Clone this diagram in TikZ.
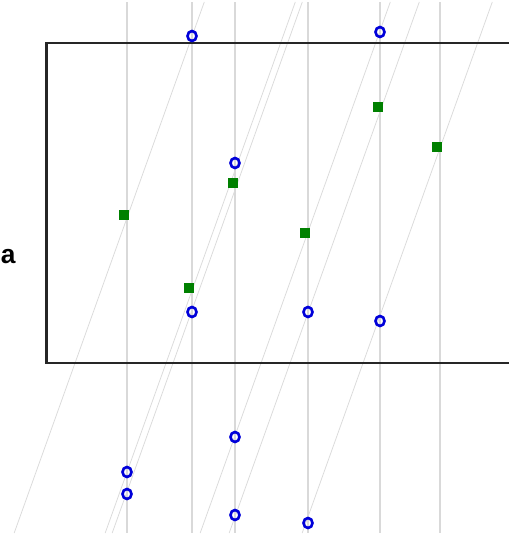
\documentclass[tikz,border=0pt]{standalone}
\usepackage{fontspec}
\setsansfont{Liberation Sans}
\usetikzlibrary{shapes.geometric}

\begin{document}
\begin{tikzpicture}[x=0.02cm, y=-0.02cm,
	grid/.style={gray!30, line width=0.6pt},
	trace/.style={gray!28, line width=0.45pt},
	frame/.style={black!85, line width=1.3pt},
	hit/.style={ellipse, draw=blue!85!black, line width=1.5pt, minimum width=0.18cm, minimum height=0.2cm, inner sep=0pt},
	seed/.style={rectangle, fill=green!50!black, minimum size=0.2cm, inner sep=0pt}]
	\useasboundingbox (0,0) rectangle (509,539);
	% vertical grid
	\foreach \gx in {127,192,235,308,380,440} {
		\draw[grid] (\gx,2) -- (\gx,533);
	}
	% slanted traces, x at the top minus slope*y
	\foreach \xo [count=\k] in {205,296,303,391,420,493} {
		\coordinate (t\k) at (\xo-0.716,2);
		\coordinate (b\k) at (\xo-190.8,533);
		\draw[trace] (t\k) -- (b\k);
	}
	\draw[frame] (46.5,43) rectangle (540,363);
	\node[font=\sffamily\bfseries\fontsize{15}{17}\selectfont, anchor=base west, inner sep=0pt] (lbl) at (0.5,263) {a};
	% markers
	\foreach \nm/\px/\py in {s1/378/107, s2/437/147, s3/233/183, s4/124/215, s5/305/233, s6/189/288} {
		\node[seed] (\nm) at (\px,\py) {};
	}
	\foreach \nm/\px/\py in {c1/192/36, c2/380/32, c3/235/163, c4/192/312, c5/308/312, c6/380/321, c7/235/437, c8/127/472, c9/127/494, c10/235/515, c11/308/523} {
		\node[hit] (\nm) at (\px,\py) {};
	}
\end{tikzpicture}
\end{document}
